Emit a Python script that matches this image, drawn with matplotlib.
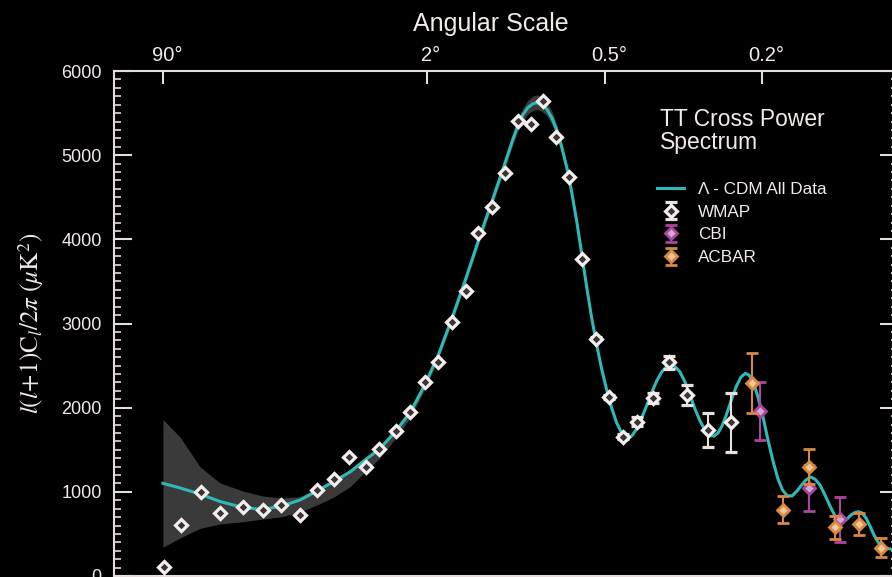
import matplotlib
matplotlib.use("Agg")
import matplotlib.pyplot as plt
import matplotlib.transforms as mtransforms
import numpy as np

# multipole l and l(l+1)Cl/2pi (uK^2)
ell_model = [1.95, 2.91, 4.43, 6.50, 9.68, 13.29, 17.57, 22.51, 28.08, 34.61, 41.75, 49.39, 57.61,
             68.25, 78.91, 90.60, 102.8, 116.3, 131.0, 145.8, 162.9, 179.8, 193.0, 200.7, 208.5,
             216.6, 224.5, 231.3, 240.0, 249.0, 258.3, 267.8, 277.5, 287.5, 297.8, 308.4, 319.3,
             330.4, 341.8, 353.5, 365.5, 377.8, 390.4, 403.4, 416.6, 430.2, 444.1, 458.4, 472.9,
             487.9, 503.1, 518.8, 534.8, 551.1, 565.5, 579.1, 596.5, 614.2, 632.4, 650.9, 669.9,
             689.2, 709.0, 725.1, 741.5, 758.2, 775.1, 796.7, 818.8, 841.2, 861.0, 878.2, 898.5,
             921.2, 945.8, 970.8, 996.4, 1022.4, 1046.3, 1070.6, 1098.1, 1126.1, 1154.6, 1177.8,
             1205.6, 1231.4, 1261.9, 1293.0, 1324.6, 1356.8, 1383.0, 1409.6, 1436.6, 1463.9,
             1491.6, 1516.2, 1541.1, 1570.0, 1599.2, 1628.8, 1658.9, 1689.3, 1725.6, 1767.3]
dl_model = [1101, 1046, 974, 885, 814, 790, 832, 903, 1010, 1123, 1236, 1378, 1505,
            1719, 1945, 2269, 2626, 3065, 3529, 3980, 4443, 4871, 5192, 5358, 5483,
            5566, 5610, 5623, 5604, 5548, 5447, 5299, 5097, 4859, 4562, 4218, 3826,
            3434, 3065, 2745, 2459, 2210, 1996, 1818, 1699, 1643, 1663, 1747, 1877,
            2026, 2180, 2317, 2424, 2489, 2507, 2489, 2424, 2305, 2150, 1984, 1842,
            1735, 1669, 1663, 1699, 1782, 1901, 2079, 2245, 2364, 2408, 2388, 2305,
            2127, 1889, 1616, 1366, 1152, 1022, 956, 950, 1010, 1087, 1141,
            1176, 1152, 1081, 962, 832, 713, 648, 642, 677, 725,
            754, 764, 749, 689, 594, 487, 404, 350, 329, 317]
# grey band: distance above / below the model curve
band_hi = [758, 606, 324, 220, 196, 160, 95, 40, 30, 30, 30, 30, 40,
           45, 50, 52, 52, 50, 50, 52, 55, 60, 65, 70, 80,
           88, 92, 95, 92, 88, 80, 70, 60, 50, 40, 30, 20, 12] + [0] * 66
band_lo = [760, 594, 408, 267, 169, 113, 127, 143, 166, 184, 175, 143, 110,
           80, 65, 55, 52, 50, 50, 52, 55, 60, 65, 70, 75,
           78, 80, 80, 80, 78, 75, 70, 62, 55, 45, 35, 25, 15] + [0] * 66

ell_wmap = [2, 3, 4.5, 6.5, 9.6, 13.2, 17.3, 22.6, 28.1, 34.5, 41.3, 49.9, 57.6, 68.3, 78.9, 90.6,
            102.8, 116.3, 131.0, 145.8, 162.9, 181.3, 200.7, 221.1, 242.9, 266.4, 292.3, 320.6,
            351.2, 383.6, 419.3, 460.1, 508.1, 559.8, 620.4, 699.9, 796.8]
dl_wmap = [110, 602, 998, 752, 820, 784, 847, 721, 1018, 1156, 1417, 1295, 1505, 1719, 1945, 2308,
           2543, 3021, 3386, 4072, 4380, 4792, 5409, 5370, 5647, 5219, 4741, 3770, 2819, 2127,
           1655, 1833, 2118, 2539, 2150, 1735, 1826]
nan = np.nan
err_wmap = [nan] * 28 + [20, 25, 30, 55, 60, 75, 123, 200, 350]

ell_cbi = [931.0, 1197.3, 1387.7]
dl_cbi = [1960, 1049, 673]
err_cbi = [350, 273, 265]

ell_acbar = [892.4, 1047.4, 1197.3, 1358.8, 1517.7, 1679.4]
dl_acbar = [2297, 788, 1299, 578, 618, 336]
err_acbar = [356, 158, 208, 133, 135, 110]

angle_ticks = [1.95, 92.6, 373.6, 940.8]
angle_labels = ['90°', '2°', '0.5°', '0.2°']

txt = '#f4e9e9'
spine_c = '#e6dcdc'
plt.rcParams['font.family'] = ['Liberation Sans', 'DejaVu Sans']
plt.rcParams['mathtext.fontset'] = 'stix'

fig = plt.figure(figsize=(8.92, 5.77), dpi=100, facecolor='black')
ax = fig.add_axes([114 / 892, 1 / 577, 784 / 892, 505 / 577], facecolor='black')

fwd = lambda x: np.sign(x) * np.abs(x) ** 0.25
inv = lambda u: np.sign(u) * np.abs(u) ** 4
ax.set_xscale('function', functions=(fwd, inv))

m = np.array(dl_model)
ax.fill_between(ell_model, m - np.array(band_lo), m + np.array(band_hi),
                color='#3a3a3a', lw=0, zorder=1)
line, = ax.plot(ell_model, dl_model, color='#2fb8b8', lw=2.2, zorder=2,
                solid_joinstyle='round', label='Λ - CDM All Data')

wm = ax.errorbar(ell_wmap, dl_wmap, yerr=err_wmap, fmt='D', ms=6, mfc='#3a3434', mec='#f5eeee',
                 mew=2.3, ecolor='#eadede', elinewidth=1.5, capsize=4, capthick=1.5, zorder=4,
                 label='WMAP')
cb = ax.errorbar(ell_cbi, dl_cbi, yerr=err_cbi, fmt='D', ms=6, mfc='#d8a6d2', mec='#a8479f',
                 mew=2.0, ecolor='#a8479f', elinewidth=1.5, capsize=4, capthick=1.5, zorder=4,
                 label='CBI')
ac = ax.errorbar(ell_acbar, dl_acbar, yerr=err_acbar, fmt='D', ms=6, mfc='#f0c898', mec='#d8883f',
                 mew=2.0, ecolor='#d8883f', elinewidth=1.5, capsize=4, capthick=1.5, zorder=5,
                 label='ACBAR')

ax.set_xlim(0.4646, 1815.4)
ax.set_ylim(0, 6000)

for s in ax.spines.values():
    s.set_color(spine_c)
    s.set_linewidth(1.5)

ax.set_xticks(angle_ticks)
ax.set_xticklabels(angle_labels)
ax.xaxis.set_minor_locator(matplotlib.ticker.NullLocator())
ax.tick_params(axis='x', which='both', top=True, bottom=False, labeltop=True, labelbottom=False,
               direction='in', length=9, width=1.5, color=spine_c, labelcolor=txt,
               labelsize=14.5, pad=4.5)
shift = mtransforms.ScaledTranslation(4 / 100, 0, fig.dpi_scale_trans)
for lab in ax.get_xticklabels():
    lab.set_transform(lab.get_transform() + shift)
ax.xaxis.set_label_position('top')
ax.set_xlabel('Angular Scale', color=txt, fontsize=18, labelpad=10.5)
ax.xaxis.label.set_x(0.48)

ax.set_yticks(np.arange(0, 6001, 1000))
ax.yaxis.set_minor_locator(matplotlib.ticker.MultipleLocator(100))
ax.tick_params(axis='y', which='major', left=True, right=True, direction='in', length=13,
               width=1.5, color=spine_c, labelcolor=txt, labelsize=13, pad=9)
ax.tick_params(axis='y', which='minor', left=True, right=True, direction='in', length=5,
               width=1.2, color=spine_c)
ax.set_ylabel(r'$l(l\!+\!1)\mathrm{C}_l/2\pi\ (\mu\mathrm{K}^2)$', color=txt, fontsize=18)
ax.yaxis.set_label_coords(-0.087, 0.5)

ax.text(0.6964, 0.927, 'TT Cross Power\nSpectrum', transform=ax.transAxes, ha='left', va='top',
        color=txt, fontsize=16.5, linespacing=1.0)
ax.legend(handles=[line, wm, cb, ac], loc='upper left', bbox_to_anchor=(0.6926, 0.780),
          frameon=False, fontsize=12.3, labelcolor=txt, handlelength=1.6, handletextpad=0.8,
          labelspacing=0.45, borderpad=0, borderaxespad=0)

fig.savefig('out.png', dpi=100, facecolor='black')
